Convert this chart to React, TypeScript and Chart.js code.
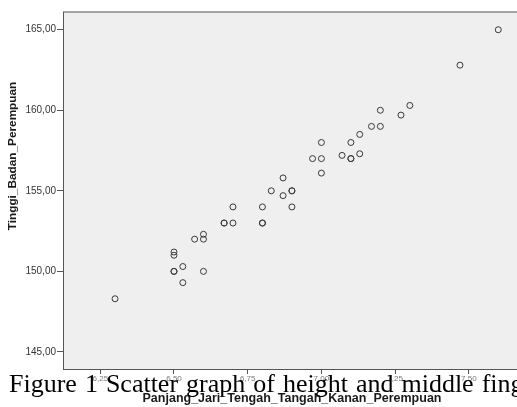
import React, { useEffect, useRef } from "react";
import { Chart, registerables } from "chart.js";

Chart.register(...registerables);

// Panjang jari tengah (x) and tinggi badan (y)
const fingerLength = [
  7.60, 7.47, 7.30, 7.20, 7.27, 7.17, 7.20, 7.13, 7.00, 7.10,
  6.97, 7.00, 7.07, 7.10, 7.10, 7.13, 7.00, 6.87, 6.83, 6.90,
  6.90, 6.87, 6.90, 6.70, 6.80, 6.67, 6.67, 6.70, 6.80, 6.80,
  6.57, 6.60, 6.60, 6.50, 6.50, 6.50, 6.50, 6.53, 6.60, 6.53,
  6.30,
];
const bodyHeight = [
  165.0, 162.8, 160.3, 160.0, 159.7, 159.0, 159.0, 158.5, 158.0, 158.0,
  157.0, 157.0, 157.2, 157.0, 157.0, 157.3, 156.1, 155.8, 155.0, 155.0,
  155.0, 154.7, 154.0, 154.0, 154.0, 153.0, 153.0, 153.0, 153.0, 153.0,
  152.0, 152.3, 152.0, 151.2, 151.0, 150.0, 150.0, 150.3, 150.0, 149.3,
  148.3,
];
const xTickValues = [6.25, 6.5, 6.75, 7.0, 7.25, 7.5];
const yTickValues = [145, 150, 155, 160, 165];

const xTitle = "Panjang_Jari_Tengah_Tangah_Kanan_Perempuan";
const yTitle = "Tinggi_Badan_Perempuan";
const caption = "Figure 1 Scatter graph of height and middle finger length";

const fmt = (v: number) => v.toFixed(2).replace(".", ",");

export default function App() {
  const ref = useRef<HTMLCanvasElement | null>(null);

  useEffect(() => {
    if (!ref.current) return;
    const points = fingerLength.map((x, i) => ({ x, y: bodyHeight[i] }));

    const decor = {
      id: "decor",
      beforeDraw(chart: any) {
        const { ctx, chartArea } = chart;
        ctx.save();
        ctx.fillStyle = "#efefef";
        ctx.fillRect(chartArea.left, chartArea.top, chartArea.right - chartArea.left + 10, chartArea.bottom - chartArea.top);
        ctx.strokeStyle = "#888888";
        ctx.lineWidth = 1.5;
        ctx.beginPath();
        ctx.moveTo(chartArea.left, chartArea.top);
        ctx.lineTo(chartArea.right + 10, chartArea.top);
        ctx.stroke();
        ctx.restore();
      },
      afterDraw(chart: any) {
        const { ctx } = chart;
        ctx.save();
        ctx.fillStyle = "#1a1a1a";
        ctx.font = "bold 11.8px Arial, 'Liberation Sans', sans-serif";
        ctx.textAlign = "center";
        ctx.textBaseline = "middle";
        ctx.translate(13, 156);
        ctx.rotate(-Math.PI / 2);
        ctx.fillText(yTitle, 0, 0);
        ctx.restore();
        ctx.save();
        ctx.fillStyle = "#1a1a1a";
        ctx.font = "bold 12.5px Arial, 'Liberation Sans', sans-serif";
        ctx.textAlign = "center";
        ctx.textBaseline = "middle";
        ctx.fillText(xTitle, 292, 399);
        ctx.restore();
      },
    };

    const chart = new Chart(ref.current, {
      type: "scatter",
      data: {
        datasets: [
          {
            data: points,
            pointRadius: 3,
            pointHoverRadius: 3,
            pointBorderWidth: 1,
            pointBorderColor: "#3a3a3a",
            pointBackgroundColor: "rgba(0,0,0,0)",
          },
        ],
      },
      options: {
        animation: false,
        responsive: false,
        layout: { padding: { top: 12, left: 0, right: 0, bottom: 0 } },
        plugins: { legend: { display: false }, tooltip: { enabled: false } },
        scales: {
          x: {
            type: "linear",
            min: 6.1235,
            max: 7.6635,
            afterBuildTicks: (s: any) => {
              s.ticks = xTickValues.map((v) => ({ value: v }));
            },
            afterFit: (s: any) => {
              s.height = 38;
            },
            border: { display: true, color: "#555555", width: 1 },
            grid: { drawOnChartArea: false, drawTicks: true, tickLength: 5, color: "#555555" },
            ticks: {
              callback: (v: any) => fmt(Number(v)),
              color: "#777777",
              font: { family: "Arial, 'Liberation Sans', sans-serif", size: 8 },
              padding: 0,
              maxRotation: 0,
            },
          },
          y: {
            type: "linear",
            min: 143.94,
            max: 166.1,
            afterBuildTicks: (s: any) => {
              s.ticks = yTickValues.map((v) => ({ value: v }));
            },
            afterFit: (s: any) => {
              s.width = 63;
            },
            border: { display: true, color: "#555555", width: 1 },
            grid: { drawOnChartArea: false, drawTicks: true, tickLength: 6, color: "#555555" },
            ticks: {
              callback: (v: any) => fmt(Number(v)),
              color: "#333333",
              font: { family: "Arial, 'Liberation Sans', sans-serif", size: 10 },
              padding: 1,
            },
          },
        },
      },
      plugins: [decor],
    });
    return () => chart.destroy();
  }, []);

  return (
    <div style={{ position: "fixed", left: 0, top: 0, width: 517, height: 407, overflow: "hidden", background: "#ffffff" }}>
      <canvas ref={ref} width={521} height={407} style={{ display: "block", width: 521, height: 407 }} />
      <div
        style={{
          position: "absolute",
          left: 9,
          top: 371,
          fontFamily: "'Liberation Serif', 'Times New Roman', serif",
          fontSize: 26,
          lineHeight: "26px",
          wordSpacing: "1.5px",
          color: "#000000",
          whiteSpace: "nowrap",
        }}
      >
        {caption}
      </div>
    </div>
  );
}
